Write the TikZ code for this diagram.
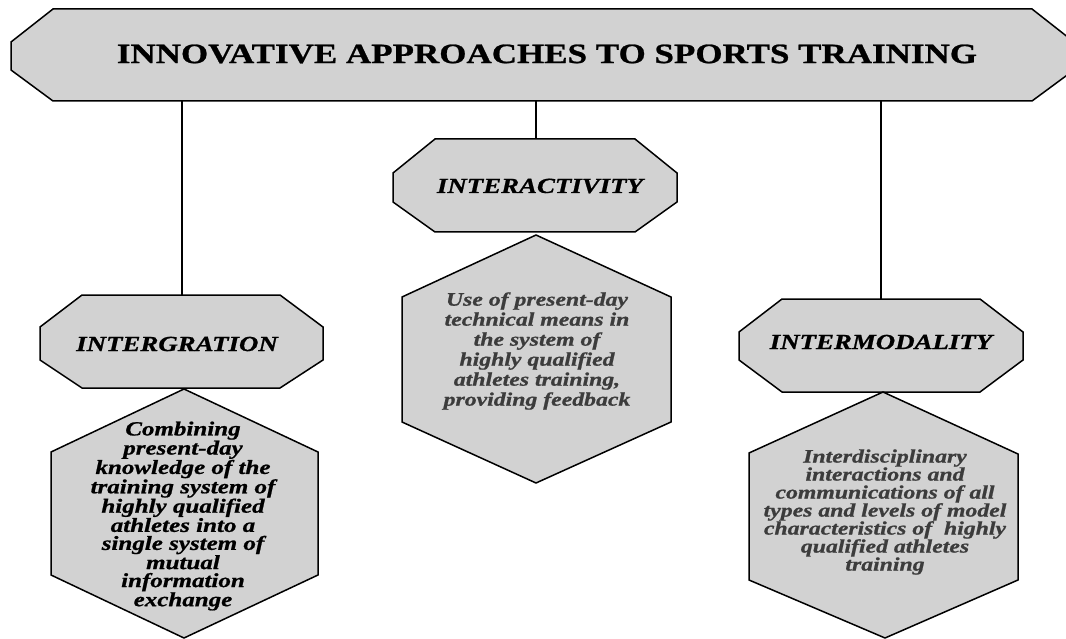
\documentclass[tikz,border=0pt]{standalone}
\usepackage{fontspec}
\setmainfont{Liberation Serif}[FakeStretch=1.25]
\definecolor{panel}{RGB}{210,210,210}
\definecolor{softink}{RGB}{60,60,60}
\newcommand\heavier{\addfontfeatures{FakeBold=0.9}}

\begin{document}
\begin{tikzpicture}[x=1pt,y=-1pt,
    panelbox/.style={draw=black,fill=panel,line width=1.5pt,line join=miter},
    link/.style={draw=black,line width=1.8pt},
    heading/.style={font=\fontsize{28}{30}\selectfont\bfseries\heavier},
    tagtext/.style={font=\fontsize{21.5}{24}\selectfont\bfseries\itshape\heavier},
    body/.style={align=center,inner sep=0pt}]
    % page size
    \useasboundingbox (0,0) rectangle (1066,639);
    \clip (0,0) rectangle (1066,639);

    % top banner
    \draw[panelbox] (53,9) -- (1032,9) -- (1074,42) -- (1074,70) -- (1032,101)
        -- (53,101) -- (11,70) -- (11,42) -- cycle;
    \node[heading] (title) at (547,54) {INNOVATIVE APPROACHES TO SPORTS TRAINING};

    % connector ends on the banner
    \coordinate (b1) at (182,101);
    \coordinate (b2) at (536,101);
    \coordinate (b3) at (881,101);

    % left octagon
    \draw[panelbox] (82,295) -- (280,295) -- (323,327) -- (323,360) -- (280,388)
        -- (82,388) -- (40,360) -- (40,327) -- cycle;
    \coordinate (o1) at (182,295);
    \node[tagtext] (integ) at (177,344) {INTERGRATION};

    % middle octagon
    \draw[panelbox] (435,139) -- (635,139) -- (677,173) -- (677,202) -- (635,232)
        -- (435,232) -- (393,202) -- (393,173) -- cycle;
    \coordinate (o2) at (536,139);
    \node[tagtext] (interact) at (540,186) {INTERACTIVITY};

    % right octagon
    \draw[panelbox] (782,299) -- (980,299) -- (1023,332) -- (1023,360) -- (980,392)
        -- (782,392) -- (739,360) -- (739,332) -- cycle;
    \coordinate (o3) at (881,299);
    \node[tagtext] (intermod) at (881,342) {INTERMODALITY};

    % connectors
    \draw[link] (b1) -- (o1);
    \draw[link] (b2) -- (o2);
    \draw[link] (b3) -- (o3);

    % left hexagon
    \draw[panelbox] (184,389) -- (318,452) -- (318,575) -- (184,638) -- (51,575)
        -- (51,452) -- cycle;
    \node[body,font=\fontsize{20}{18}\selectfont\bfseries\itshape\heavier] (integtxt) at (183,516)
        {Combining\\present-day\\knowledge of the\\training system of\\highly qualified\\
         athletes into a\\single system of\\mutual\\information\\exchange};

    % middle hexagon
    \draw[panelbox] (536,235) -- (671,297) -- (671,422) -- (536,483) -- (402,422)
        -- (402,297) -- cycle;
    \node[body,text=softink,font=\fontsize{19}{20}\selectfont\bfseries\itshape\heavier] (interacttxt) at (537,351)
        {Use of present-day\\technical means in\\the system of\\highly qualified\\
         athletes training,\\providing feedback};

    % right hexagon
    \draw[panelbox] (883,392) -- (1018,454) -- (1018,580) -- (885,638) -- (749,580)
        -- (749,453) -- cycle;
    \node[body,text=softink,font=\fontsize{19}{18}\selectfont\bfseries\itshape\heavier] (intermodtxt) at (885,512)
        {Interdisciplinary\\interactions and\\communications of all\\types and levels of model\\
         characteristics of \ highly\\qualified athletes\\training};

\end{tikzpicture}
\end{document}
